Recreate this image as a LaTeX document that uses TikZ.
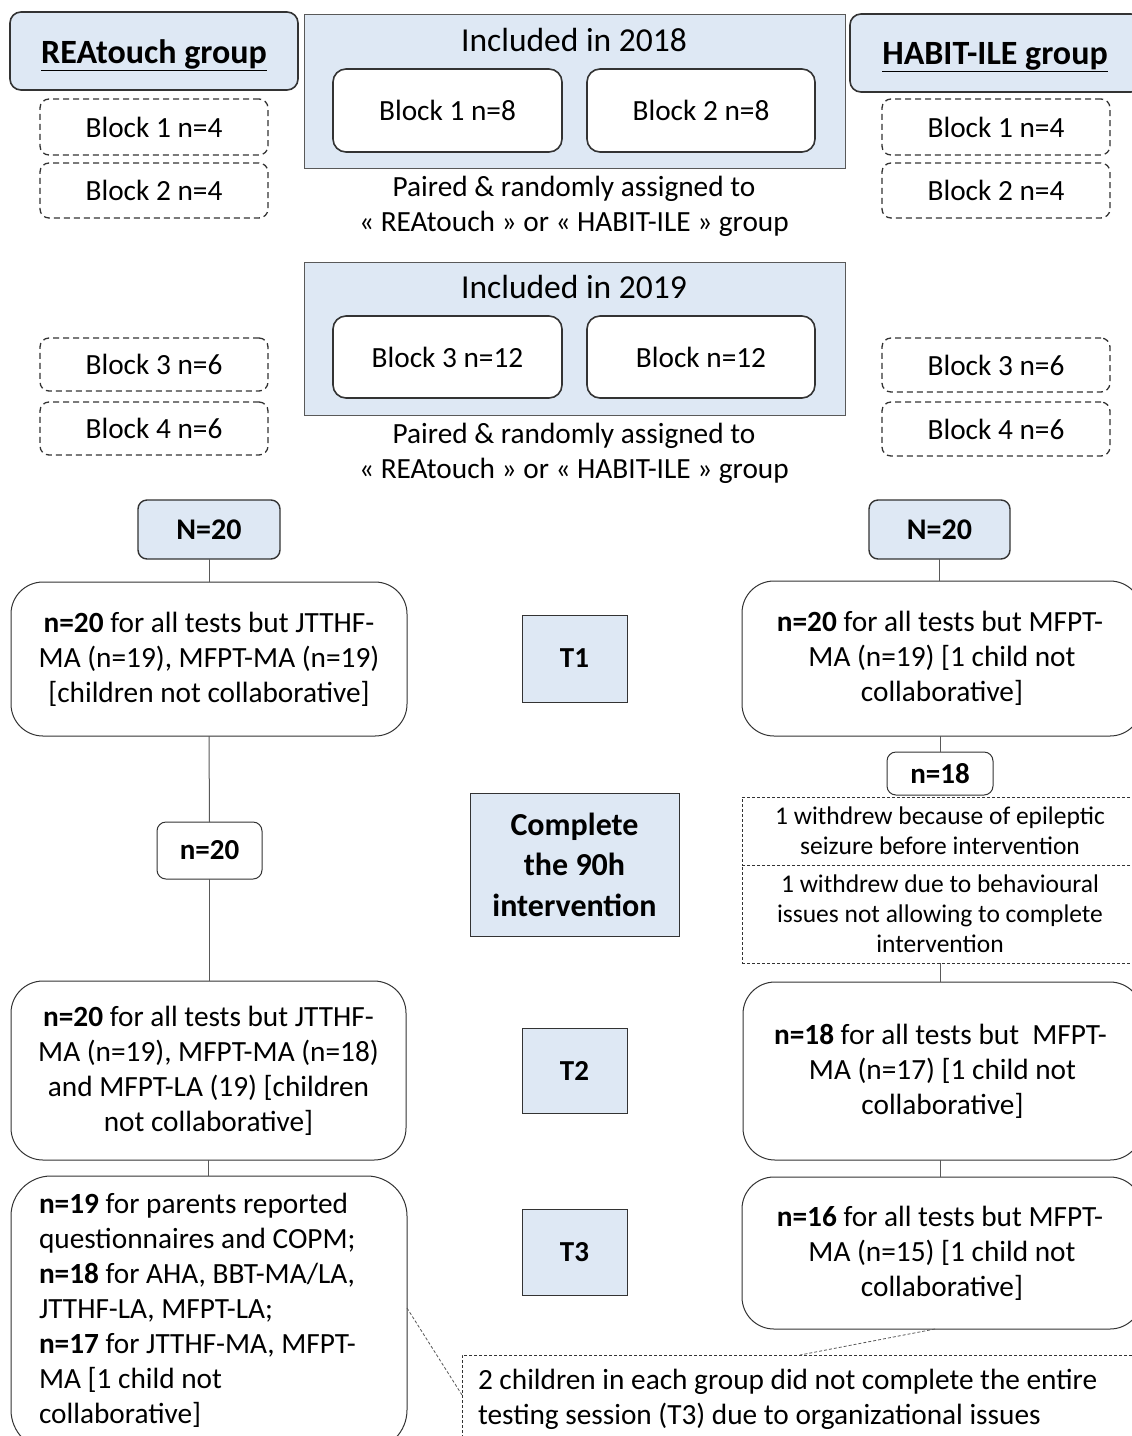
\documentclass[tikz,border=0pt]{standalone}
\usepackage{fontspec}
\setmainfont{Carlito}
\usetikzlibrary{calc}
\definecolor{lblue}{HTML}{DEE8F4}
\definecolor{dark}{HTML}{333333}
\definecolor{lgray}{HTML}{595959}
\begin{document}
\begin{tikzpicture}[x=1pt,y=-1pt,
  font=\fontsize{29.3}{35}\selectfont,
  every node/.style={inner sep=0pt, outer sep=0pt, align=center},
  hdr/.style={draw=dark, fill=lblue, rounded corners=11pt, line width=1.6pt, font=\fontsize{34}{40}\selectfont\bfseries},
  dbox/.style={draw=dark, dashed, dash pattern=on 6pt off 4pt, rounded corners=9pt, line width=1.3pt},
  incl/.style={draw=lgray, fill=lblue, line width=1pt},
  blk/.style={draw=dark, fill=white, rounded corners=13pt, line width=1.6pt},
  nbox/.style={draw=dark, fill=lblue, rounded corners=9pt, line width=1.4pt, font=\fontsize{30}{36}\selectfont\bfseries},
  big/.style={draw=dark, fill=white, rounded corners=32pt, line width=1pt},
  tsq/.style={draw=dark, fill=lblue, line width=1pt, font=\fontsize{29}{35}\selectfont\bfseries},
  sbox/.style={draw=dark, fill=white, rounded corners=9pt, line width=1pt, font=\fontsize{29}{35}\selectfont\bfseries},
  note/.style={draw=dark, dashed, dash pattern=on 3pt off 2pt, line width=0.8pt},
  conn/.style={draw=lgray, line width=1pt},
  dconn/.style={draw=lgray, dashed, dash pattern=on 3pt off 2pt, line width=0.8pt}]
\clip (0,0) rectangle (1132,1436);
\fill[white] (0,0) rectangle (1132,1436);

% headers
\node[hdr, minimum width=288pt, minimum height=78pt] (rea) at (154,51) {};
\node[font=\fontsize{34}{40}\selectfont\bfseries] (reat) at (154,55) {\underline{REAtouch group}};
\node[hdr, minimum width=292pt, minimum height=78pt] (hab) at (996,53) {};
\node[font=\fontsize{34}{40}\selectfont\bfseries] (habt) at (995,57) {\underline{HABIT-ILE group}};

% left/right dashed blocks
\node[dbox, minimum width=228pt, minimum height=56pt] (lb1) at (154,127) {Block 1 n=4};
\node[dbox, minimum width=228pt, minimum height=55pt] (lb2) at (154,190.5) {Block 2 n=4};
\node[dbox, minimum width=228pt, minimum height=56pt] (rb1) at (996,127) {Block 1 n=4};
\node[dbox, minimum width=228pt, minimum height=55pt] (rb2) at (996,190.5) {Block 2 n=4};
\node[dbox, minimum width=228pt, minimum height=53pt] (lb3) at (154,364.5) {Block 3 n=6};
\node[dbox, minimum width=228pt, minimum height=53pt] (lb4) at (154,428.5) {Block 4 n=6};
\node[dbox, minimum width=228pt, minimum height=54pt] (rb3) at (996,365) {Block 3 n=6};
\node[dbox, minimum width=228pt, minimum height=54pt] (rb4) at (996,429) {Block 4 n=6};

% included 2018
\node[incl, minimum width=541pt, minimum height=154pt] (i18) at (574.5,91) {};
\node[font=\fontsize{33.5}{40}\selectfont] (i18t) at (574,40) {Included in 2018};
\node[blk, minimum width=229pt, minimum height=83pt] (b18a) at (447.5,110.5) {Block 1 n=8};
\node[blk, minimum width=228pt, minimum height=83pt] (b18b) at (701,110.5) {Block 2 n=8};
\node (p18) at (574,206.5) {Paired \& randomly assigned to\\« REAtouch » or « HABIT-ILE » group};

% included 2019
\node[incl, minimum width=541pt, minimum height=153pt] (i19) at (574.5,338.5) {};
\node[font=\fontsize{33.5}{40}\selectfont] (i19t) at (574,287) {Included in 2019};
\node[blk, minimum width=229pt, minimum height=82pt] (b19a) at (447.5,357) {Block 3 n=12};
\node[blk, minimum width=228pt, minimum height=82pt] (b19b) at (701,357) {Block n=12};
\node (p19) at (574,453.5) {Paired \& randomly assigned to\\« REAtouch » or « HABIT-ILE » group};

% N=20
\node[nbox, minimum width=142pt, minimum height=59pt] (nl) at (209,529.5) {N=20};
\node[nbox, minimum width=141pt, minimum height=59pt] (nr) at (939.5,529.5) {N=20};

% T1
\node[big, minimum width=396pt, minimum height=154pt] (t1l) at (209,659) {\textbf{n=20} for all tests but JTTHF-\\MA (n=19), MFPT-MA (n=19)\\{}[children not collaborative]};
\node[big, minimum width=400pt, minimum height=155pt] (t1r) at (942,658.5) {\hspace{-4pt}\textbf{n=20} for all tests but MFPT-\\MA (n=19) [1 child not\\collaborative]};
\node[tsq, minimum width=105pt, minimum height=87pt] (t1) at (574.5,658.5) {T1};

% intervention
\node[sbox, minimum width=105pt, minimum height=57pt] (n20) at (209.5,850.5) {n=20};
\node[sbox, minimum width=106pt, minimum height=43pt] (n18) at (940,773.5) {n=18};
\node[note, minimum width=400pt, minimum height=68pt, font=\fontsize{25.5}{30}\selectfont] (w1) at (942,831) {\hspace{-4pt}1 withdrew because of epileptic\\\hspace{-4pt}seizure before intervention};
\node[note, minimum width=400pt, minimum height=98pt, font=\fontsize{25.5}{30}\selectfont] (w2) at (942,914) {\hspace{-4pt}1 withdrew due to behavioural\\\hspace{-4pt}issues not allowing to complete\\\hspace{-4pt}intervention};
\node[tsq, minimum width=209pt, minimum height=143pt, font=\fontsize{32}{40.5}\selectfont\bfseries] (cpl) at (574.5,864.5) {Complete\\the 90h\\intervention};

% T2
\node[big, minimum width=395pt, minimum height=179pt] (t2l) at (208.5,1070.5) {\textbf{n=20} for all tests but JTTHF-\\MA (n=19), MFPT-MA (n=18)\\and MFPT-LA (19) [children\\not collaborative]};
\node[big, minimum width=399pt, minimum height=178pt] (t2r) at (942.5,1071) {\hspace{-4pt}\textbf{n=18} for all tests but\ \ MFPT-\\MA (n=17) [1 child not\\collaborative]};
\node[tsq, minimum width=105pt, minimum height=85pt] (t2) at (574.5,1070.5) {T2};

% T3
\node[big, minimum width=396pt, minimum height=274pt, rounded corners=40pt] (t3l) at (209,1313) {};
\node[anchor=north west, align=flush left, text width=370pt] (t3lt) at (39,1193) {\textbf{n=19} for parents reported\\questionnaires and COPM;\\\textbf{n=18} for AHA, BBT-MA/LA,\\JTTHF-LA, MFPT-LA;\\\textbf{n=17} for JTTHF-MA, MFPT-\\MA [1 child not\\collaborative]};
\node[big, minimum width=400pt, minimum height=152pt] (t3r) at (942,1253) {\hspace{-4pt}\textbf{n=16} for all tests but MFPT-\\MA (n=15) [1 child not\\collaborative]};
\node[tsq, minimum width=105pt, minimum height=86pt] (t3) at (574.5,1252) {T3};

% bottom note
\node[note, minimum width=680pt, minimum height=95pt] (bn) at (802,1402.5) {};
\node[anchor=north west, align=flush left, text width=660pt] (bnt) at (478,1369) {2 children in each group did not complete the entire\\testing session (T3) due to organizational issues};

% connectors
\draw[conn] (nl.south) -- (t1l.north);
\draw[conn] (nr.south) -- (nr.south |- t1r.north);
\draw[conn] (t1l.south) -- (n20.north);
\draw[conn] (n20.south) -- (n20.south |- t2l.north);
\draw[conn] (n18.north |- t1r.south) -- (n18.north);
\draw[conn] (n18.south |- w2.south) -- (n18.south |- t2r.north);
\draw[conn] (t2l.south) -- (t2l.south |- t3l.north);
\draw[conn] (n18.south |- t2r.south) -- (n18.south |- t3r.north);
\coordinate (c1) at ($(bn.north west)+(0,40)$);
\coordinate (c2) at ($(bn.north west)+(338,0)$);
\draw[dconn] ($(t3l.east)+(0,-5)$) -- (c1);
\draw[dconn] ($(t3r.south)+(-7,0)$) -- (c2);
\end{tikzpicture}
\end{document}
